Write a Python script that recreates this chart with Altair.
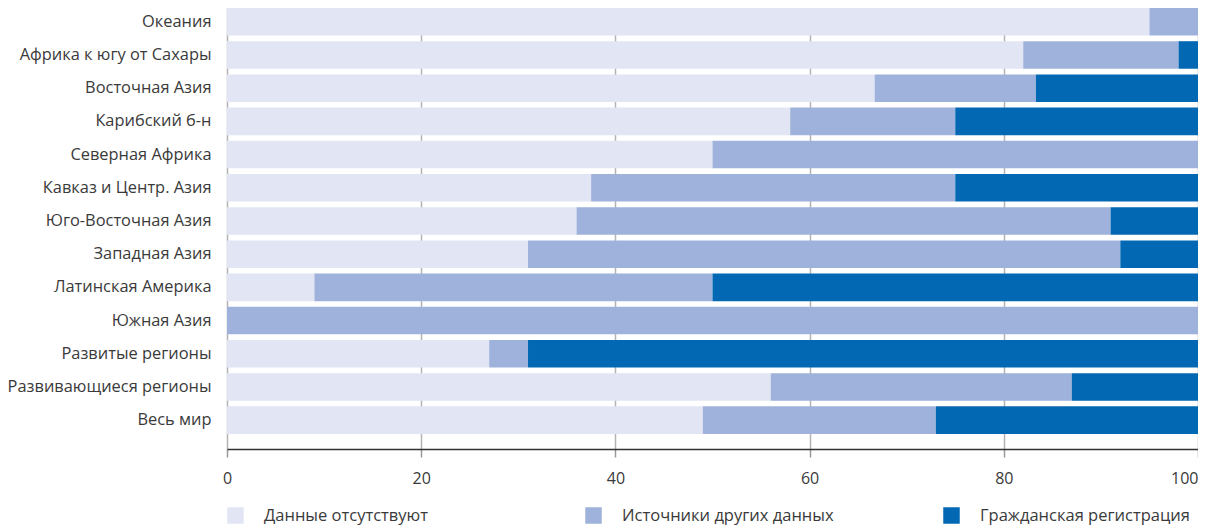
import altair as alt
import pandas as pd

categories = [
    "Океания",
    "Африка к югу от Сахары",
    "Восточная Азия",
    "Карибский б-н",
    "Северная Африка",
    "Кавказ и Центр. Азия",
    "Юго-Восточная Азия",
    "Западная Азия",
    "Латинская Америка",
    "Южная Азия",
    "Развитые регионы",
    "Развивающиеся регионы",
    "Весь мир",
]
series = ["Данные отсутствуют", "Источники других данных", "Гражданская регистрация"]
colors = ["#E2E6F4", "#9FB2DB", "#0268B3"]

missing = [95, 82, 66.7, 58, 50, 37.5, 36, 31, 9, 0, 27, 56, 49]
other = [5, 16, 16.6, 17, 50, 37.5, 55, 61, 41, 100, 4, 31, 24]
civil = [0, 2, 16.7, 25, 0, 25, 9, 8, 50, 0, 69, 13, 27]

rows = []
for i, c in enumerate(categories):
    for k, (s, vals) in enumerate(zip(series, [missing, other, civil])):
        rows.append({"region": c, "series": s, "value": vals[i], "ord": k})
df = pd.DataFrame(rows)

FONT = "Open Sans"
TXT = "#3a3a3a"

chart = (
    alt.Chart(df)
    .mark_bar()
    .encode(
        x=alt.X(
            "value:Q",
            stack="zero",
            scale=alt.Scale(domain=[0, 100], nice=False),
            axis=alt.Axis(
                title=None,
                values=[0, 20, 40, 60, 80, 100],
                grid=True,
                gridColor="#b3b3b3",
                gridWidth=1.5,
                tickSize=8,
                tickColor="#999999",
                tickWidth=1.5,
                domainColor="#333333",
                domainWidth=1.5,
                labelFontSize=16,
                labelFont=FONT,
                labelColor=TXT,
                labelPadding=13,
                labelAlign={"expr": "datum.value == 100 ? 'right' : 'center'"},
            ),
        ),
        y=alt.Y(
            "region:N",
            sort=categories,
            scale=alt.Scale(paddingInner=0.17, paddingOuter=0.227, align=0),
            axis=alt.Axis(
                title=None,
                domain=False,
                ticks=False,
                grid=False,
                labelPadding=16,
                labelFontSize=16.4,
                labelFont=FONT,
                labelColor=TXT,
                labelLimit=400,
            ),
        ),
        color=alt.Color(
            "series:N",
            scale=alt.Scale(domain=series, range=colors),
            legend=alt.Legend(
                title=None,
                orient="none",
                legendX=0,
                legendY=499,
                direction="horizontal",
                columns=3,
                gridAlign="all",
                columnPadding=109,
                symbolType="square",
                symbolSize=272,
                symbolStrokeWidth=0,
                symbolOpacity=1,
                labelOffset=20,
                labelFontSize=16.5,
                labelFont=FONT,
                labelColor=TXT,
                labelLimit=400,
            ),
        ),
        order=alt.Order("ord:Q"),
    )
    .properties(
        width=971,
        height=441,
        autosize=alt.AutoSizeParams(type="none"),
        padding={"left": 219, "top": 0, "right": 0, "bottom": 84},
    )
    .configure_view(stroke=None)
)

chart.save("out.html", embed_options={"renderer": "svg", "actions": False})
